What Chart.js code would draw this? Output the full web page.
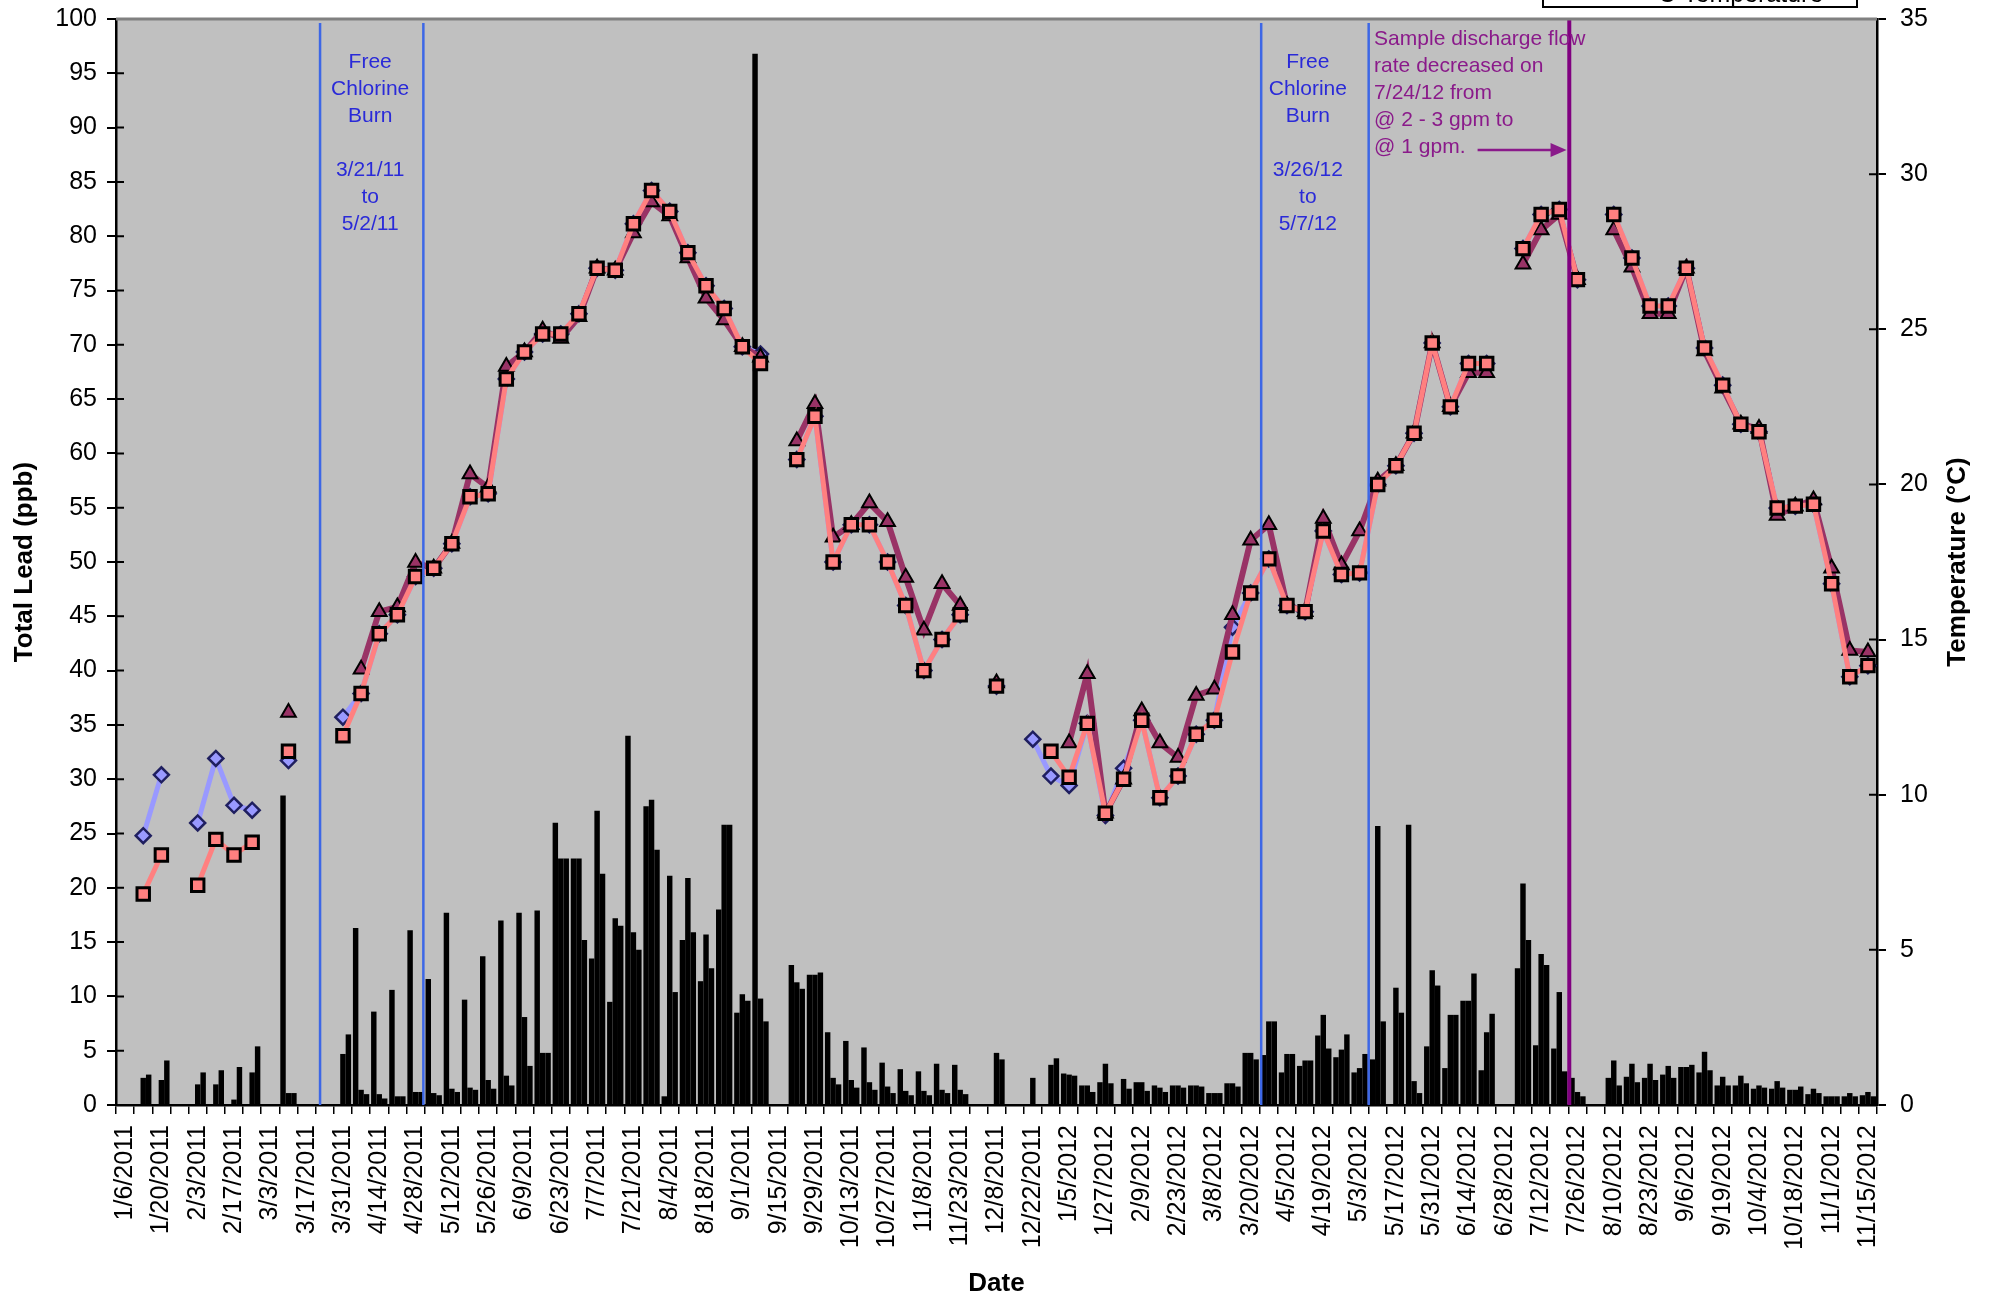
<!DOCTYPE html>
<html>
<head>
<meta charset="utf-8">
<title>Total Lead and Temperature</title>
<script src="https://cdn.jsdelivr.net/npm/chart.js@4.4.1/dist/chart.umd.min.js"></script>
<style>
  html, body { margin: 0; padding: 0; background: #fff; }
  #wrap { width: 1991px; height: 1299px; }
</style>
</head>
<body>
<div id="wrap"><canvas id="leadChart" width="1991" height="1299"></canvas></div>
<script>
// sampling weeks - only every other week carries a label on the axis
const weekLabels = [
  '1/6/2011', '1/20/2011', '2/3/2011', '2/17/2011', '3/3/2011', '3/17/2011', '3/31/2011',
  '4/14/2011', '4/28/2011', '5/12/2011', '5/26/2011', '6/9/2011', '6/23/2011', '7/7/2011',
  '7/21/2011', '8/4/2011', '8/18/2011', '9/1/2011', '9/15/2011', '9/29/2011', '10/13/2011',
  '10/27/2011', '11/8/2011', '11/23/2011', '12/8/2011', '12/22/2011', '1/5/2012', '1/27/2012',
  '2/9/2012', '2/23/2012', '3/8/2012', '3/20/2012', '4/5/2012', '4/19/2012', '5/3/2012',
  '5/17/2012', '5/31/2012', '6/14/2012', '6/28/2012', '7/12/2012', '7/26/2012', '8/10/2012',
  '8/23/2012', '9/6/2012', '9/19/2012', '10/4/2012', '10/18/2012', '11/1/2012', '11/15/2012'
];
const categories = [];
for (let i = 0; i < weekLabels.length * 2 - 1; i++) {
  categories.push(i % 2 === 0 ? weekLabels[i / 2] : '');
}

// total lead (ppb), three samples per week
const leadA = [
  null, 0, 0, null, 0, 0, 0, 0, null, 28.5,
  null, null, 0, 16.3, 8.6, 10.6, 16.1, 11.6, 17.7, 9.7,
  13.7, 17.0, 17.7, 17.9, 26.0, 22.7, 13.5, 9.5, 34.0, 27.5,
  0.8, 15.2, 11.4, 18.0, 8.5, 96.8, null, 12.9, 12.0, 6.7,
  5.9, 5.3, 3.9, 3.3, 3.1, 3.8, 3.7, null, 0, null,
  0, 0, 2.9, 1.8, 2.1, 0, 2.1, 1.8, 1.8, 1.8,
  1.1, 2.0, 4.8, 4.6, 3.0, 3.6, 6.4, 4.4, 3.0, 4.2,
  0, 25.8, 5.4, 3.4, 9.6, 3.2, null, 12.6, 5.5, 5.2,
  2.5, null, 2.5, 2.6, 2.5, 2.8, 3.5, 3.0, 1.8, 1.8,
  1.5, 1.5, 1.4, 1.0, 0.8, 0.8, 0.9
];
const leadB = [
  null, 2.5, 2.3, null, 1.9, 1.9, 0.5, 3.0, null, 1.1,
  null, null, 4.7, 1.4, 1.0, 0.8, 1.2, 1.1, 1.5, 1.6,
  2.3, 2.7, 8.1, 4.8, 22.7, 22.7, 27.1, 17.2, 15.9, 28.1,
  21.1, 20.9, 15.7, 25.8, 10.2, 9.8, null, 11.3, 12.0, 2.5,
  2.3, 2.1, 1.7, 1.3, 1.3, 1.4, 1.4, null, 4.8, null,
  2.5, 3.7, 2.8, 1.8, 3.8, 2.4, 2.1, 1.6, 1.8, 1.8,
  1.1, 2.0, 4.8, 7.7, 4.7, 4.1, 8.3, 5.1, 3.4, 25.7,
  10.8, 2.2, 12.4, 8.3, 9.6, 6.7, null, 20.4, 13.9, 10.4,
  1.2, null, 4.1, 3.8, 3.8, 3.6, 3.5, 4.9, 2.6, 2.7,
  1.8, 2.2, 1.4, 1.5, 0.8, 1.1, 1.2
];
const leadC = [
  null, 2.8, 4.1, null, 3.0, 3.2, 3.5, 5.4, null, 1.1,
  null, null, 6.5, 1.0, 0.6, 0.8, 1.2, 0.9, 1.2, 1.4,
  1.5, 1.8, 3.6, 4.8, 22.7, 15.2, 21.3, 16.5, 14.3, 23.5,
  10.4, 15.9, 12.6, 25.8, 9.6, 7.7, null, 10.7, 12.2, 1.9,
  1.6, 1.4, 1.1, 0.9, 0.9, 1.1, 1.0, null, 4.2, null,
  0, 4.3, 2.7, 1.2, 2.0, 1.5, 1.3, 1.2, 1.6, 1.7,
  1.1, 1.7, 4.2, 7.7, 4.7, 4.1, 5.2, 6.5, 4.7, 7.7,
  8.5, 1.1, 11.0, 8.3, 12.1, 8.4, null, 15.2, 12.9, 3.1,
  0.8, null, 1.8, 2.1, 2.3, 2.5, 3.7, 3.2, 1.8, 2.0,
  1.6, 1.6, 1.7, 1.1, 0.8, 0.8, 0.8
];

// temperature (deg C), three measuring points
const tempSquare = [
  null, 6.8, 8.06, null, 7.08, 8.56, 8.06, 8.47, null, 11.4,
  null, null, 11.9, 13.26, 15.19, 15.8, 17.03, 17.3, 18.09, 19.6,
  19.7, 23.4, 24.27, 24.85, 24.85, 25.5, 26.97, 26.9, 28.4, 29.47,
  28.8, 27.47, 26.4, 25.67, 24.44, 23.9, null, 20.8, 22.2, 17.5,
  18.7, 18.7, 17.5, 16.1, 14.0, 15.0, 15.8, null, 13.5, null,
  null, 11.4, 10.56, 12.3, 9.4, 10.5, 12.4, 9.9, 10.6, 11.95,
  12.4, 14.6, 16.5, 17.6, 16.1, 15.9, 18.5, 17.1, 17.15, 20.0,
  20.6, 21.65, 24.56, 22.5, 23.9, 23.9, null, 27.6, 28.7, 28.86,
  26.6, null, 28.7, 27.3, 25.75, 25.75, 26.97, 24.4, 23.2, 21.94,
  21.7, 19.24, 19.3, 19.36, 16.8, 13.8, 14.16
];
const tempTriangle = [
  null, null, null, null, null, null, null, null, null, 12.65,
  null, null, null, 14.04, 15.9, 16.05, 17.48, 17.3, 18.1, 20.34,
  19.9, 23.8, 24.27, 24.97, 24.7, 25.4, 26.97, 26.9, 28.1, 29.1,
  28.65, 27.3, 26.0, 25.3, 24.44, 24.1, null, 21.4, 22.6, 18.3,
  18.7, 19.4, 18.8, 17.0, 15.3, 16.8, 16.1, null, 13.6, null,
  null, null, 11.67, 13.9, 9.4, 10.5, 12.7, 11.67, 11.2, 13.2,
  13.4, 15.8, 18.2, 18.7, 16.1, 15.9, 18.9, 17.4, 18.5, 20.1,
  20.6, 21.65, 24.56, 22.5, 23.6, 23.6, null, 27.1, 28.2, 28.7,
  26.6, null, 28.2, 27.0, 25.5, 25.5, 26.97, 24.3, 23.1, 21.94,
  21.8, 19.0, 19.3, 19.5, 17.3, 14.65, 14.6
];
const tempDiamond = [
  null, 8.68, 10.64, null, 9.09, 11.17, 9.66, 9.5, null, 11.1,
  null, null, 12.5, 13.26, 15.19, 15.8, 17.03, 17.3, 18.09, 19.6,
  19.7, 23.4, 24.27, 24.85, 24.85, 25.5, 26.97, 26.9, 28.4, 29.47,
  28.8, 27.47, 26.4, 25.67, 24.44, 24.2, null, 20.8, 22.2, 17.5,
  18.7, 18.7, 17.5, 16.1, 14.0, 15.0, 15.8, null, 13.5, null,
  11.79, 10.6, 10.3, 12.3, 9.33, 10.85, 12.4, 9.9, 10.6, 11.95,
  12.4, 15.4, 16.5, 17.6, 16.1, 15.9, 18.5, 17.1, 17.15, 20.0,
  20.6, 21.65, 24.56, 22.5, 23.9, 23.9, null, 27.6, 28.7, 28.86,
  26.6, null, 28.7, 27.3, 25.75, 25.75, 26.97, 24.4, 23.2, 21.94,
  21.7, 19.24, 19.3, 19.36, 16.8, 13.8, 14.16
];

// drawn notes: x given as category position, y as offset below plot top
const notes = {
  font: '21px "Liberation Sans", Arial, sans-serif',
  lineHeight: 27,
  lines: [
    { at: 10.74, color: '#3d67e6', width: 2.5, gap: 4 },
    { at: 16.43, color: '#3d67e6', width: 2.5, gap: 4 },
    { at: 62.58, color: '#3d67e6', width: 2.5, gap: 4 },
    { at: 68.5, color: '#3d67e6', width: 2.5, gap: 4 },
    { at: 79.55, color: '#800080', width: 4, gap: 0 }
  ],
  texts: [
    { at: 13.5, y: 43, align: 'center', color: '#2a2ad8',
      lines: ['Free', 'Chlorine', 'Burn', '', '3/21/11', 'to', '5/2/11'] },
    { at: 65.15, y: 43, align: 'center', color: '#2a2ad8',
      lines: ['Free', 'Chlorine', 'Burn', '', '3/26/12', 'to', '5/7/12'] },
    { at: 68.8, y: 20, align: 'left', color: '#8a1a8a',
      lines: ['Sample discharge flow', 'rate decreased on', '7/24/12 from', '@ 2 - 3 gpm to', '@ 1 gpm.'] }
  ],
  arrow: { from: 74.5, to: 79.4, y: 131, color: '#8a1a8a' }
};

const plotFrame = {
  id: 'plotFrame',
  beforeDraw(chart) {
    const { ctx, chartArea: a } = chart;
    ctx.save();
    ctx.fillStyle = '#ffffff';
    ctx.fillRect(0, 0, chart.width, chart.height);
    ctx.fillStyle = '#c0c0c0';
    ctx.fillRect(a.left, a.top, a.right - a.left, a.bottom - a.top);
    ctx.restore();
  },
  afterDatasetsDraw(chart) {
    const { ctx, chartArea: a, scales: { x, y, y2 } } = chart;
    ctx.save();
    notes.lines.forEach(l => {
      const px = x.getPixelForValue(l.at);
      ctx.strokeStyle = l.color;
      ctx.lineWidth = l.width;
      ctx.beginPath();
      ctx.moveTo(px, a.top + l.gap);
      ctx.lineTo(px, a.bottom);
      ctx.stroke();
    });
    ctx.font = notes.font;
    ctx.textBaseline = 'middle';
    notes.texts.forEach(t => {
      const px = x.getPixelForValue(t.at);
      ctx.fillStyle = t.color;
      ctx.textAlign = t.align;
      t.lines.forEach((s, i) => ctx.fillText(s, px, a.top + t.y + i * notes.lineHeight));
    });
    const ar = notes.arrow;
    const x1 = x.getPixelForValue(ar.from), x2 = x.getPixelForValue(ar.to), yy = a.top + ar.y;
    ctx.strokeStyle = ar.color;
    ctx.fillStyle = ar.color;
    ctx.lineWidth = 2.5;
    ctx.beginPath();
    ctx.moveTo(x1, yy);
    ctx.lineTo(x2 - 12, yy);
    ctx.stroke();
    ctx.beginPath();
    ctx.moveTo(x2, yy);
    ctx.lineTo(x2 - 16, yy - 7);
    ctx.lineTo(x2 - 16, yy + 7);
    ctx.closePath();
    ctx.fill();

    // inner halves of the crossing tick marks
    ctx.strokeStyle = '#000';
    ctx.lineWidth = 2;
    ctx.beginPath();
    y.ticks.forEach(t => {
      const py = y.getPixelForValue(t.value);
      ctx.moveTo(a.left, py); ctx.lineTo(a.left + 8, py);
    });
    y2.ticks.forEach(t => {
      const py = y2.getPixelForValue(t.value);
      ctx.moveTo(a.right - 8, py); ctx.lineTo(a.right, py);
    });
    ctx.stroke();

    // grey top edge of plot area
    ctx.strokeStyle = '#808080';
    ctx.lineWidth = 3;
    ctx.beginPath();
    ctx.moveTo(a.left, a.top);
    ctx.lineTo(a.right, a.top);
    ctx.stroke();
    ctx.restore();
  },
  afterDraw(chart) {
    const { ctx, chartArea: a } = chart;
    ctx.save();
    // right axis title reads bottom to top
    ctx.translate(1958, (a.top + a.bottom) / 2);
    ctx.rotate(-Math.PI / 2);
    ctx.font = 'bold 26px "Liberation Sans", Arial, sans-serif';
    ctx.fillStyle = '#000';
    ctx.textAlign = 'center';
    ctx.textBaseline = 'middle';
    ctx.fillText('Temperature (°C)', 0, 0);
    ctx.restore();

    // legend box, cut off by the top of the page
    ctx.save();
    ctx.strokeStyle = '#000';
    ctx.lineWidth = 2;
    ctx.strokeRect(1543, -40, 314, 47);
    ctx.font = '25px "Liberation Sans", Arial, sans-serif';
    ctx.fillStyle = '#000';
    ctx.textBaseline = 'alphabetic';
    ctx.fillText('°C Temperature', 1648, 2);
    ctx.restore();
  }
};

const FONT = '"Liberation Sans", Arial, sans-serif';
Chart.defaults.font.family = FONT;
Chart.defaults.color = '#000';

function barSet(label, values) {
  return {
    type: 'bar',
    label: label,
    data: values,
    yAxisID: 'y',
    backgroundColor: '#000000',
    borderWidth: 0,
    categoryPercentage: 0.9,
    barPercentage: 1.0,
    order: 4
  };
}

function fitVertical(width) {
  return function (scale) {
    scale.width = width;
    scale.paddingTop = 0;
    scale.paddingBottom = 0;
  };
}

new Chart(document.getElementById('leadChart'), {
  type: 'bar',
  data: {
    labels: categories,
    datasets: [
      {
        type: 'line', label: '°C Temperature (square)', data: tempSquare, yAxisID: 'y2',
        borderColor: '#ff8080', borderWidth: 5, spanGaps: false,
        pointStyle: 'rect', pointRadius: 8.8, pointBackgroundColor: '#ff8080',
        pointBorderColor: '#000', pointBorderWidth: 3, order: 1
      },
      {
        type: 'line', label: '°C Temperature (triangle)', data: tempTriangle, yAxisID: 'y2',
        borderColor: '#993366', borderWidth: 6, spanGaps: false,
        pointStyle: 'triangle', pointRadius: 8.5, pointBackgroundColor: '#993366',
        pointBorderColor: '#000', pointBorderWidth: 2, order: 2
      },
      {
        type: 'line', label: '°C Temperature (diamond)', data: tempDiamond, yAxisID: 'y2',
        borderColor: '#9999ff', borderWidth: 5, spanGaps: false,
        pointStyle: 'rectRot', pointRadius: 7.5, pointBackgroundColor: '#9999ff',
        pointBorderColor: '#1f1f5f', pointBorderWidth: 2.5, order: 3
      },
      barSet('Lead sample 1', leadA),
      barSet('Lead sample 2', leadB),
      barSet('Lead sample 3', leadC)
    ]
  },
  options: {
    responsive: false,
    animation: false,
    devicePixelRatio: 1,
    layout: { padding: { top: 19, left: 0, right: 0, bottom: 0 } },
    plugins: {
      legend: { display: false },
      tooltip: { enabled: false }
    },
    scales: {
      x: {
        type: 'category',
        offset: true,
        z: 1,
        grid: { offset: true, drawOnChartArea: false, drawTicks: true, tickLength: 9, color: '#000', lineWidth: 1.5 },
        border: { display: true, color: '#000', width: 2.5 },
        ticks: {
          autoSkip: false, minRotation: 90, maxRotation: 90, padding: 11,
          font: { size: 25 }, color: '#000'
        },
        title: { display: true, text: 'Date', font: { size: 26, weight: 'bold' }, padding: { top: 0, bottom: 0 } },
        afterFit(scale) { scale.height = 194; }
      },
      y: {
        position: 'left',
        min: 0, max: 100,
        grid: { drawOnChartArea: false, drawTicks: true, tickLength: 9, color: '#000', lineWidth: 2 },
        border: { display: true, color: '#000', width: 2.5 },
        ticks: { stepSize: 5, padding: 10, font: { size: 25 }, color: '#000' },
        title: { display: true, text: 'Total Lead (ppb)', font: { size: 26, weight: 'bold' }, padding: { top: 9, bottom: 0 } },
        afterFit: fitVertical(116)
      },
      y2: {
        position: 'right',
        min: 0, max: 35,
        grid: { drawOnChartArea: false, drawTicks: true, tickLength: 9, color: '#000', lineWidth: 2 },
        border: { display: true, color: '#000', width: 2.5 },
        ticks: { stepSize: 5, padding: 14, font: { size: 25 }, color: '#000' },
        afterFit: fitVertical(114)
      }
    }
  },
  plugins: [plotFrame]
});
</script>
</body>
</html>
